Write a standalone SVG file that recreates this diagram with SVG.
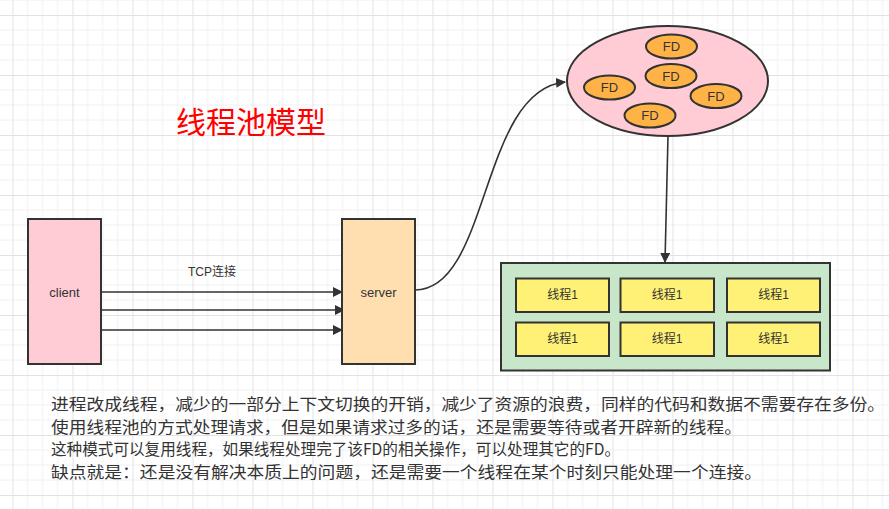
<svg xmlns="http://www.w3.org/2000/svg" width="889" height="509" viewBox="0 0 889 509">
<style>
.box{stroke:#333;stroke-width:2}
.conn{fill:none;stroke:#333;stroke-width:1.6}
.lbl{font-family:"Liberation Sans","Noto Sans CJK SC",sans-serif;fill:#333;text-anchor:middle;dominant-baseline:central}
.fd{fill:#ffb347;stroke:#333;stroke-width:2}
.th{fill:#fff176;stroke:#333;stroke-width:2}
.para{font-family:"Noto Sans CJK SC",sans-serif;font-size:16px;fill:#333}
</style>
<defs>
<pattern id="grid" patternUnits="userSpaceOnUse" x="12.5" y="15" width="60" height="60">
<path d="M15 0V60M30 0V60M45 0V60M0 15H60M0 30H60M0 45H60" stroke="#f0f0f0" stroke-width="1" fill="none"/>
<path d="M0.5 0V60M0 0.5H60" stroke="#e2e2e2" stroke-width="1" fill="none"/>
</pattern>
<marker id="arrB" viewBox="0 0 10 10" refX="9" refY="5" markerWidth="10" markerHeight="10" markerUnits="userSpaceOnUse" orient="auto">
<path d="M0 0L10 5L0 10Z" fill="#333"/>
</marker>
</defs>
<rect width="889" height="509" fill="#fff"/>
<rect width="889" height="509" fill="url(#grid)"/>

<text x="251" y="133" font-family="'Noto Sans CJK SC',sans-serif" font-size="30" fill="#ff0000" text-anchor="middle">线程池模型</text>

<g id="connectors">
<line class="conn" x1="101" y1="292" x2="342" y2="292" marker-end="url(#arrB)"/>
<line class="conn" x1="101" y1="310" x2="344" y2="310" marker-end="url(#arrB)"/>
<line class="conn" x1="97" y1="330" x2="342" y2="330" marker-end="url(#arrB)"/>
<path class="conn" d="M415 290 C490 290 480 90 565 82" marker-end="url(#arrB)"/>
<line class="conn" x1="668" y1="136" x2="665" y2="262" marker-end="url(#arrB)"/>
<text class="lbl" x="212" y="272" font-size="12">TCP连接</text>
</g>

<g id="client">
<rect class="box" x="28" y="219" width="73" height="145" fill="#ffccd5"/>
<text class="lbl" x="64.5" y="292" font-size="13">client</text>
</g>

<g id="server">
<rect class="box" x="342" y="219" width="73" height="145" fill="#ffdfb0"/>
<text class="lbl" x="378.5" y="292" font-size="13">server</text>
</g>

<g id="fd-pool">
<ellipse class="box" cx="667.5" cy="81" rx="100.5" ry="55" fill="#ffccd5"/>
<g id="fd1"><ellipse class="fd" cx="671.5" cy="46.5" rx="25.5" ry="12"/><text class="lbl" x="671.5" y="46.5" font-size="13">FD</text></g>
<g id="fd2"><ellipse class="fd" cx="671" cy="76" rx="25.5" ry="12"/><text class="lbl" x="671" y="76" font-size="13">FD</text></g>
<g id="fd3"><ellipse class="fd" cx="609.5" cy="87.5" rx="25.5" ry="12"/><text class="lbl" x="609.5" y="87.5" font-size="13">FD</text></g>
<g id="fd4"><ellipse class="fd" cx="716" cy="96" rx="25.5" ry="12"/><text class="lbl" x="716" y="96" font-size="13">FD</text></g>
<g id="fd5"><ellipse class="fd" cx="650" cy="115.5" rx="25.5" ry="12"/><text class="lbl" x="650" y="115.5" font-size="13">FD</text></g>
</g>

<g id="thread-pool">
<rect class="box" x="501" y="263" width="329" height="107.5" fill="#c8e6c9"/>
<g id="t1"><rect class="th" x="516" y="278.5" width="93" height="33.5"/><text class="lbl" x="562.5" y="295" font-size="12">线程1</text></g>
<g id="t2"><rect class="th" x="620.5" y="278.5" width="93.5" height="33.5"/><text class="lbl" x="667" y="295" font-size="12">线程1</text></g>
<g id="t3"><rect class="th" x="727" y="278.5" width="93" height="33.5"/><text class="lbl" x="773.5" y="295" font-size="12">线程1</text></g>
<g id="t4"><rect class="th" x="516" y="322.5" width="93" height="33.5"/><text class="lbl" x="562.5" y="339" font-size="12">线程1</text></g>
<g id="t5"><rect class="th" x="620.5" y="322.5" width="93.5" height="33.5"/><text class="lbl" x="667" y="339" font-size="12">线程1</text></g>
<g id="t6"><rect class="th" x="727" y="322.5" width="93" height="33.5"/><text class="lbl" x="773.5" y="339" font-size="12">线程1</text></g>
</g>

<g id="notes">
<text class="para" x="51" y="410" textLength="834" lengthAdjust="spacingAndGlyphs">进程改成线程，减少的一部分上下文切换的开销，减少了资源的浪费，同样的代码和数据不需要存在多份。</text>
<text class="para" x="51" y="432.5" textLength="691" lengthAdjust="spacingAndGlyphs">使用线程池的方式处理请求，但是如果请求过多的话，还是需要等待或者开辟新的线程。</text>
<text class="para" x="51" y="455" textLength="569" lengthAdjust="spacingAndGlyphs">这种模式可以复用线程，如果线程处理完了该FD的相关操作，可以处理其它的FD。</text>
<text class="para" x="51" y="477.5" textLength="711" lengthAdjust="spacingAndGlyphs">缺点就是：还是没有解决本质上的问题，还是需要一个线程在某个时刻只能处理一个连接。</text>
</g>
</svg>
